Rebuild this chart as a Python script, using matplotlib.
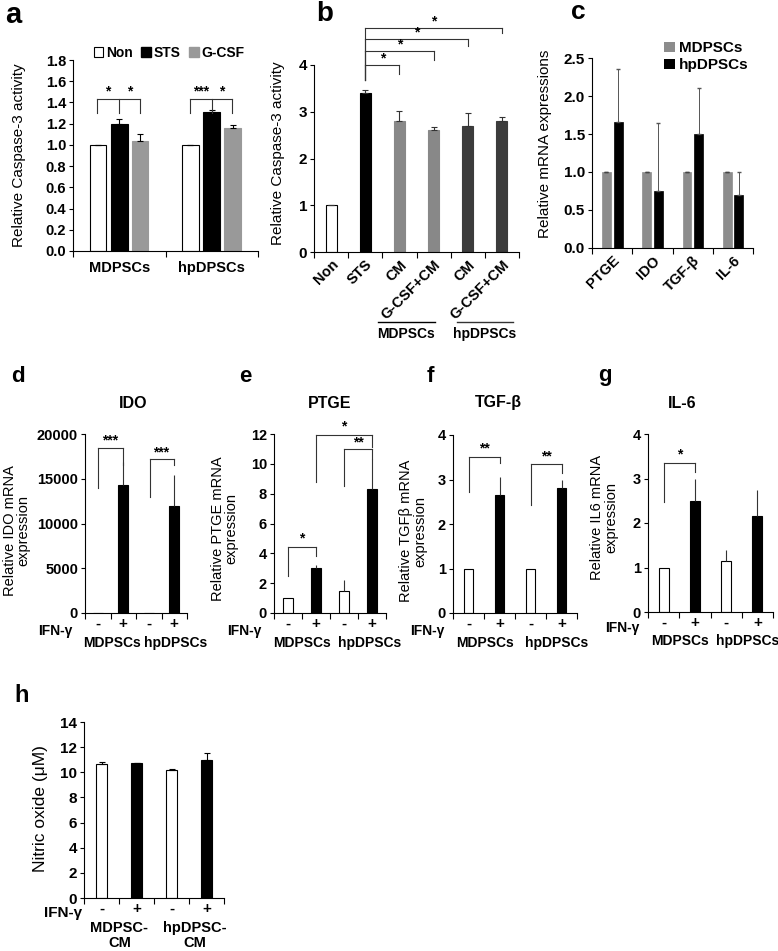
import matplotlib
matplotlib.use('Agg')
import matplotlib.pyplot as plt
import numpy as np
from matplotlib.patches import Patch
from matplotlib.ticker import FormatStrFormatter

plt.rcParams['font.family'] = ['Liberation Sans', 'DejaVu Sans']
plt.rcParams['font.weight'] = 'bold'

# ---- data ----
a_groups = ['MDPSCs', 'hpDPSCs']
a_series = ['Non', 'STS', 'G-CSF']
a_non = [1.0, 1.0]
a_non_err = [0.0, 0.0]
a_sts = [1.20, 1.31]
a_sts_err = [0.04, 0.02]
a_gcsf = [1.04, 1.16]
a_gcsf_err = [0.06, 0.03]

b_labels = ['Non', 'STS', 'CM', 'G-CSF+CM', 'CM', 'G-CSF+CM']
b_vals = [1.0, 3.4, 2.8, 2.6, 2.7, 2.8]
b_err = [0.0, 0.07, 0.21, 0.08, 0.28, 0.08]

c_genes = ['PTGE', 'IDO', 'TGF-β', 'IL-6']
c_md = [1.0, 1.0, 1.0, 1.0]
c_md_err = [0.0, 0.0, 0.0, 0.0]
c_hp = [1.66, 0.75, 1.50, 0.70]
c_hp_err = [0.70, 0.90, 0.60, 0.30]

ifn = ['-', '+', '-', '+']
cells = ['MDPSCs', 'hpDPSCs']
d_vals = [1, 14300, 1, 11900]
d_err = [0, 2600, 0, 3500]
e_vals = [1.0, 3.0, 1.5, 8.3]
e_err = [0, 0.2, 0.7, 2.0]
f_vals = [1.0, 2.65, 1.0, 2.8]
f_err = [0, 0.4, 0, 0.2]
g_vals = [1.0, 2.5, 1.15, 2.15]
g_err = [0, 0.5, 0.25, 0.6]
h_vals = [10.65, 10.7, 10.2, 11.0]
h_err = [0.2, 0.05, 0.05, 0.55]
h_cells = ['MDPSC-\nCM', 'hpDPSC-\nCM']

W, H = 778, 951
fig = plt.figure(figsize=(W / 100, H / 100), dpi=100)


def add_ax(l, t, r, b):
    return fig.add_axes([l / W, 1 - b / H, (r - l) / W, (b - t) / H])


def style(ax, fs=10.5):
    for s in ['top', 'right']:
        ax.spines[s].set_visible(False)
    for s in ['left', 'bottom']:
        ax.spines[s].set_linewidth(0.8)
    ax.tick_params(axis='y', length=3, width=0.8, labelsize=fs, pad=2)
    ax.tick_params(axis='x', which='major', length=0, labelsize=fs)
    ax.tick_params(axis='x', which='minor', length=4, width=0.8)


def bracket(ax, xs, lows, top, color='#333333'):
    ax.plot([min(xs), max(xs)], [top, top], color=color, lw=0.8, clip_on=False)
    for x, lo in zip(xs, lows):
        ax.plot([x, x], [lo, top], color=color, lw=0.8, clip_on=False)


def star(ax, x, y, s, fs=10):
    ax.text(x, y, s, ha='center', va='center', fontsize=fs, clip_on=False)


def ylab(ax, txt, x, y=0.5, fs=10):
    ax.text(x, y, txt, rotation=90, ha='center', va='center', fontsize=fs,
            fontweight='normal', transform=ax.transAxes, linespacing=1.0)


def up(err):
    return [np.zeros(len(err)), err]


def letter(x, y, s, fs):
    fig.text(x / W, 1 - y / H, s, fontsize=fs, fontweight='bold', ha='center', va='center')


# ---- a ----
ax = add_ax(73, 60, 258, 251)
style(ax)
x = np.arange(len(a_groups))
w = 0.18
ek = dict(elinewidth=0.8, capsize=2, capthick=0.8, ecolor='black')
ax.bar(x - 0.23, a_non, w, yerr=up(a_non_err), color='white', edgecolor='black', lw=0.8, error_kw=ek)
ax.bar(x, a_sts, w, yerr=up(a_sts_err), color='black', edgecolor='black', lw=0.8, error_kw=ek)
ax.bar(x + 0.225, a_gcsf, w, yerr=up(a_gcsf_err), color='#999999', edgecolor='#999999', lw=0.8, error_kw=ek)
ax.set_xlim(-0.5, 1.5)
ax.set_ylim(0, 1.8)
ax.set_yticks(np.arange(0, 1.81, 0.2))
ax.yaxis.set_major_formatter(FormatStrFormatter('%.1f'))
ax.set_xticks(x)
ax.set_xticklabels(a_groups)
ax.set_xticks([-0.5, 0.5, 1.5], minor=True)
ax.tick_params(axis='x', which='major', pad=7)
ylab(ax, 'Relative Caspase-3 activity', -0.29, 0.5, fs=11)
for g0, s1, s2 in [(0, '*', '*'), (1, '***', '*')]:
    bracket(ax, [g0 - 0.24, g0, g0 + 0.22], [1.30, 1.30, 1.30], 1.435)
    star(ax, g0 - 0.12, 1.50, s1)
    star(ax, g0 + 0.11, 1.50, s2)
hand = [Patch(facecolor='white', edgecolor='black', lw=0.8),
        Patch(facecolor='black', edgecolor='black'),
        Patch(facecolor='#999999', edgecolor='#999999')]
ax.legend(hand, a_series, ncol=3, loc='lower center', bbox_to_anchor=(0.52, 0.97),
          frameon=False, fontsize=10, handlelength=0.7, handleheight=0.7,
          handletextpad=0.2, columnspacing=0.6, borderaxespad=0)
letter(13, 15, 'a', 21)

# ---- b ----
ax = add_ax(314, 65, 519, 252)
style(ax, fs=11)
xb = np.arange(len(b_labels))
b_cols = ['white', 'black', '#888888', '#888888', '#3c3c3c', '#3c3c3c']
b_edge = ['black', 'black', '#888888', '#888888', '#3c3c3c', '#3c3c3c']
ax.bar(xb, b_vals, 0.32, yerr=up(b_err), color=b_cols, edgecolor=b_edge, lw=0.8,
       error_kw=dict(elinewidth=0.8, capsize=2, capthick=0.8, ecolor='#333333'))
ax.set_xlim(-0.5, 5.5)
ax.set_ylim(0, 4)
ax.set_yticks(range(5))
ax.set_xticks(xb)
ax.set_xticklabels(b_labels, rotation=45, ha='right', rotation_mode='anchor', fontsize=10.5)
ax.set_xticks(np.arange(-0.5, 5.6, 1), minor=True)
ax.tick_params(axis='x', which='major', pad=4)
ylab(ax, 'Relative Caspase-3 activity', -0.176, 0.53, fs=11)
tops = [4.0, 4.3, 4.56, 4.8]
ends = [3.8, 4.1, 4.4, 4.68]
for k, (t, e) in enumerate(zip(tops, ends)):
    bracket(ax, [1, k + 2], [3.68, e], t)
    star(ax, (1 + k + 2) / 2, t + 0.13, '*')
tr = ax.get_xaxis_transform()
for (x0, x1), name, col in [((1.37, 3.04), cells[0], 'black'), ((3.68, 5.32), cells[1], '#333333')]:
    ax.plot([x0, x1], [-0.374, -0.374], color=col, lw=1.0, transform=tr, clip_on=False)
    ax.text((x0 + x1) / 2, -0.44, name, transform=tr, ha='center', va='center', fontsize=10)
letter(325, 14, 'b', 20)

# ---- c ----
ax = add_ax(592, 58, 753, 248)
style(ax, fs=11)
xc = np.arange(len(c_genes))
ax.bar(xc - 0.14, c_md, 0.22, yerr=up(c_md_err), color='#8c8c8c', edgecolor='#8c8c8c', lw=0.5,
       error_kw=dict(elinewidth=0.8, capsize=1.5, ecolor='#444444'))
ax.bar(xc + 0.15, c_hp, 0.22, yerr=up(c_hp_err), color='black', edgecolor='black', lw=0.5,
       error_kw=dict(elinewidth=0.7, capsize=1.5, ecolor='#555555'))
ax.set_xlim(-0.5, 3.5)
ax.set_ylim(0, 2.5)
ax.set_yticks(np.arange(0, 2.51, 0.5))
ax.yaxis.set_major_formatter(FormatStrFormatter('%.1f'))
ax.set_xticks(xc)
ax.set_xticklabels(c_genes, rotation=45, ha='right', rotation_mode='anchor', fontsize=10.5)
ax.set_xticks(np.arange(-0.5, 3.6, 1), minor=True)
ax.tick_params(axis='x', which='major', pad=4)
ylab(ax, 'Relative mRNA expressions', -0.29, 0.55, fs=11)
ax.legend([Patch(facecolor='#8c8c8c'), Patch(facecolor='black')], cells,
          loc='upper right', bbox_to_anchor=(1.01, 1.12), frameon=False, fontsize=11,
          handlelength=0.7, handleheight=0.7, handletextpad=0.25, labelspacing=0.2,
          borderaxespad=0)
letter(578, 12, 'c', 19)


# ---- d to g ----
def ifn_panel(box, vals, err, ylim, yticks, width, title, title_x, ylabel, ylx, yly,
              ifn_x, ifn_y, grp_x, grp_y, fs=10.5):
    ax = add_ax(*box)
    style(ax, fs=fs)
    xi = np.arange(len(vals))
    ax.bar(xi, vals, width, yerr=up(err), color=['white', 'black', 'white', 'black'],
           edgecolor='black', lw=0.8, error_kw=dict(elinewidth=0.8, capsize=0, ecolor='#333333'))
    ax.set_xlim(-0.5, 3.5)
    ax.set_ylim(*ylim)
    ax.set_yticks(yticks)
    ax.set_xticks(xi)
    ax.set_xticklabels(ifn, fontsize=11)
    ax.set_xticks(np.arange(-0.5, 3.6, 1), minor=True)
    ax.tick_params(axis='x', which='major', pad=3)
    ylab(ax, ylabel, ylx, yly, fs=10.5)
    ax.text(ifn_x, ifn_y, 'IFN-γ', transform=ax.transAxes, ha='right', va='center', fontsize=10)
    tr = ax.get_xaxis_transform()
    for gx, name in zip(grp_x, cells):
        ax.text(gx, grp_y, name, transform=tr, ha='center', va='center', fontsize=10)
    fig.text(title_x / W, 1 - 403 / H, title, ha='center', va='center', fontsize=11.5, fontweight='bold')
    return ax


ax = ifn_panel((85, 434, 187, 613), d_vals, d_err, (0, 20000), range(0, 20001, 5000), 0.38,
               'IDO', 133, 'Relative IDO mRNA\nexpression', -0.67, 0.46,
               -0.12, -0.10, [0.55, 3.05], -0.168)
bracket(ax, [0.02, 0.99], [14000, 16550], 18400)
star(ax, 0.5, 19250, '***')
bracket(ax, [2.06, 3.0], [13000, 16550], 17200)
star(ax, 2.5, 17950, '***')
letter(18, 376, 'd', 16)

ax = ifn_panel((274, 434, 386, 613), e_vals, e_err, (0, 12), range(0, 13, 2), 0.34,
               'PTGE', 330, 'Relative PTGE mRNA\nexpression', -0.44, 0.47,
               -0.11, -0.10, [0.5, 2.9], -0.168)
bracket(ax, [0, 1], [2.5, 3.8], 4.42)
star(ax, 0.5, 5.0, '*')
bracket(ax, [2, 3], [8.5, 10.3], 11.0)
star(ax, 2.5, 11.45, '**')
bracket(ax, [1, 3], [8.8, 11.15], 11.93)
star(ax, 2.0, 12.5, '*')
letter(245, 376, 'e', 16)

ax = ifn_panel((453, 435, 577, 613), f_vals, f_err, (0, 4), range(0, 5), 0.32,
               'TGF-β', 498, 'Relative TGFβ mRNA\nexpression', -0.32, 0.46,
               -0.07, -0.10, [0.52, 2.84], -0.168)
bracket(ax, [0, 1], [2.73, 3.36], 3.51)
star(ax, 0.5, 3.7, '**')
bracket(ax, [2, 3], [2.43, 3.14], 3.34)
star(ax, 2.5, 3.52, '**')
letter(430, 376, 'f', 16)

ax = ifn_panel((648, 434, 773, 612), g_vals, g_err, (0, 4), range(0, 5), 0.32,
               'IL-6', 682, 'Relative IL6 mRNA\nexpression', -0.35, 0.53,
               -0.064, -0.09, [0.52, 2.7], -0.163)
bracket(ax, [0, 1], [2.47, 3.15], 3.35)
star(ax, 0.5, 3.55, '*')
letter(605, 376, 'g', 16)

# ---- h ----
ax = add_ax(84, 722, 224, 898)
style(ax, fs=11)
xh = np.arange(len(h_vals))
ax.bar(xh, h_vals, 0.3, yerr=up(h_err), color=['white', 'black', 'white', 'black'],
       edgecolor='black', lw=0.8, error_kw=dict(elinewidth=0.8, capsize=2, capthick=0.8, ecolor='black'))
ax.set_xlim(-0.5, 3.5)
ax.set_ylim(0, 14)
ax.set_yticks(range(0, 15, 2))
ax.set_xticks(xh)
ax.set_xticklabels(ifn, fontsize=11)
ax.set_xticks(np.arange(-0.5, 3.6, 1), minor=True)
ax.tick_params(axis='x', which='major', pad=3)
ylab(ax, 'Nitric oxide (μM)', -0.31, 0.51, fs=12.5)
ax.text(-0.015, -0.085, 'IFN-γ', transform=ax.transAxes, ha='right', va='center', fontsize=11)
tr = ax.get_xaxis_transform()
for gx, name in zip([0.51, 2.67], h_cells):
    ax.text(gx, -0.13, name, transform=tr, ha='center', va='top', fontsize=10.5, linespacing=1.1)
letter(22, 695, 'h', 17)

fig.savefig('out.png', dpi=100)
